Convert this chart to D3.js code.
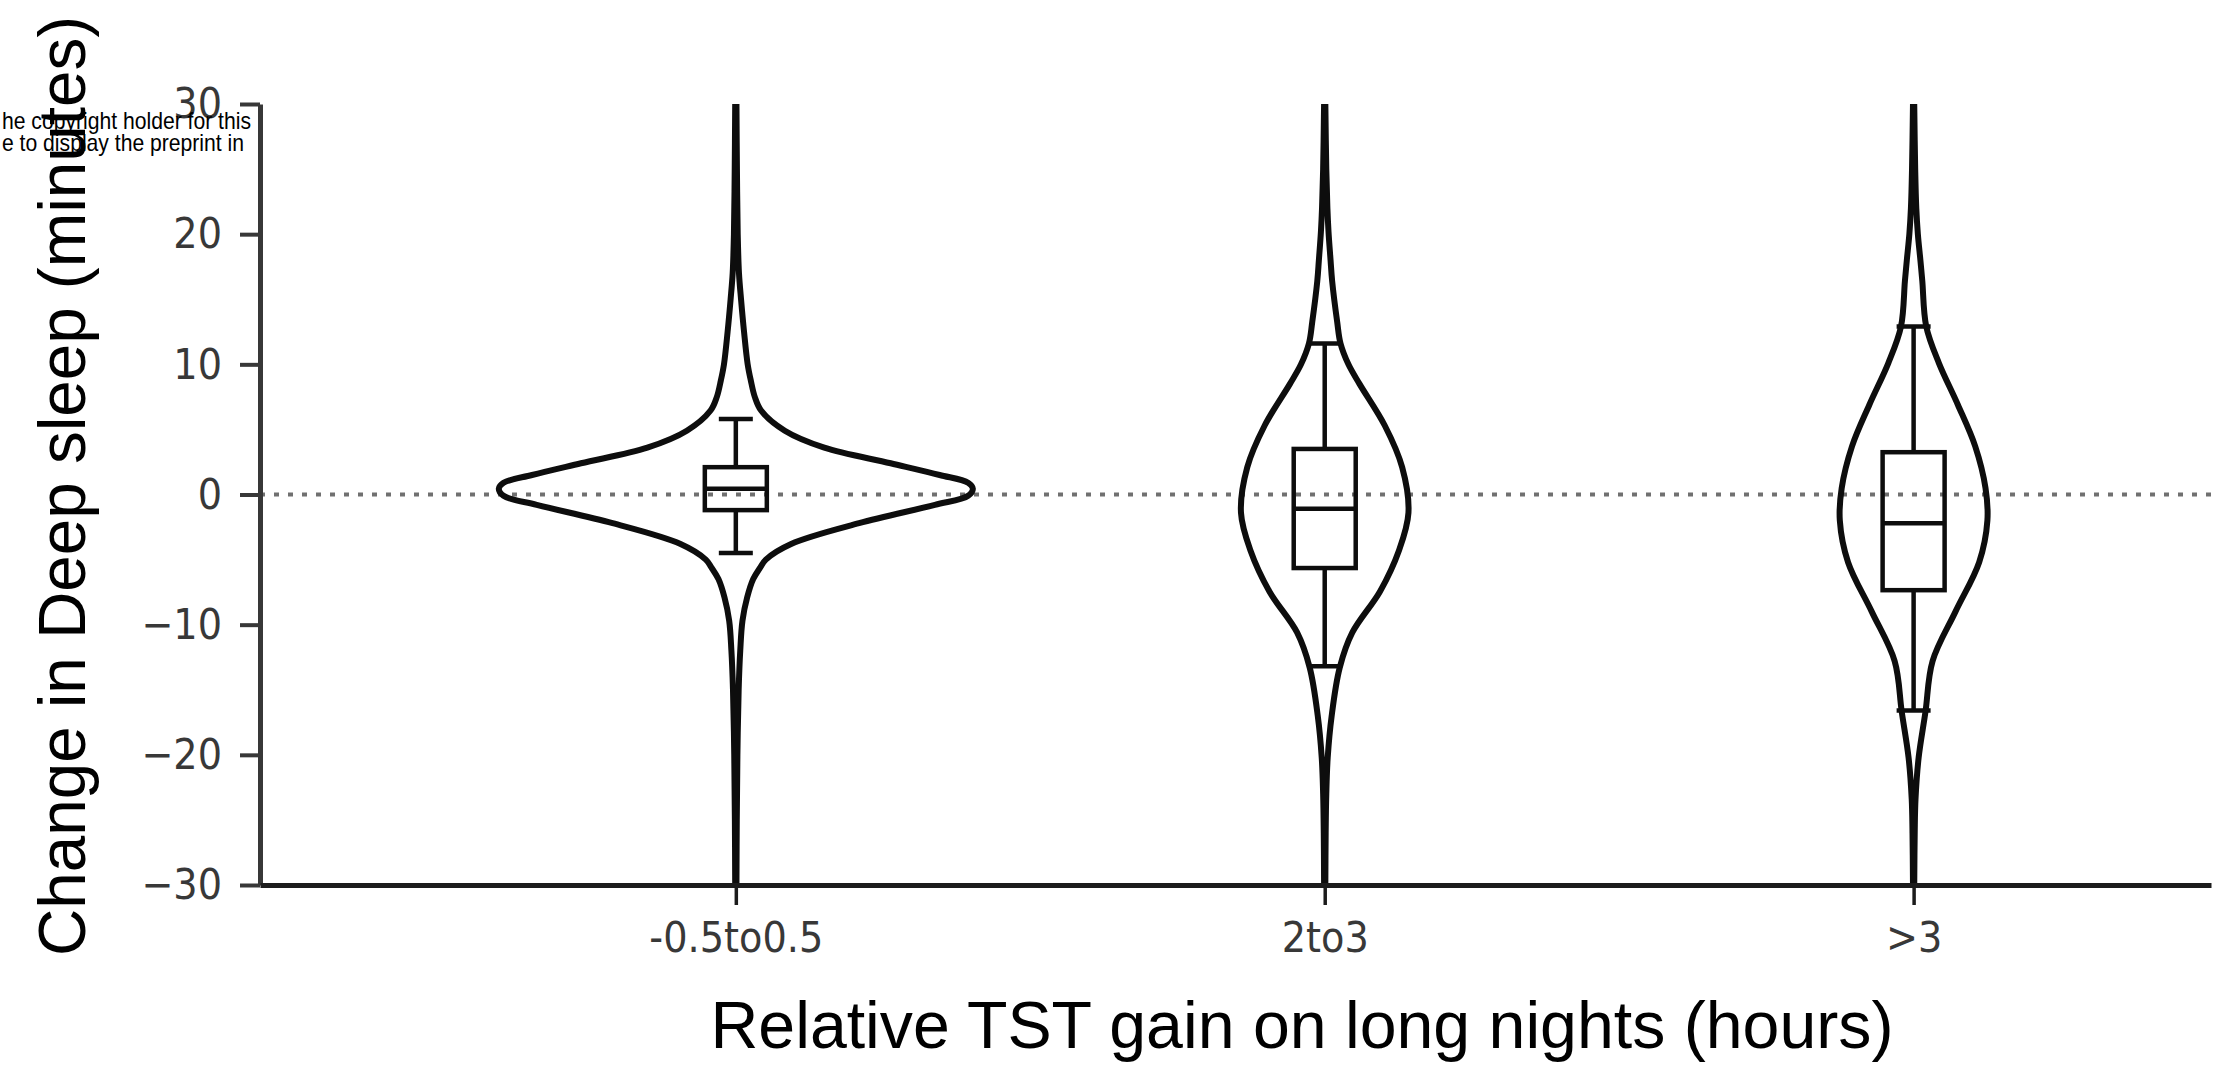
<!DOCTYPE html>
<html>
<head>
<meta charset="utf-8">
<script src="https://cdn.jsdelivr.net/npm/d3@7"></script>
<style>
  html, body { margin: 0; padding: 0; background: #fff; }
  svg { display: block; }
</style>
</head>
<body>
<svg id="chart" width="2227" height="1067"></svg>
<script>
// Groups of relative total-sleep-time gain on long nights
const categories = ["-0.5to0.5", "2to3", ">3"];

// y axis ticks (change in deep sleep, minutes)
const yTickValues = [-30, -20, -10, 0, 10, 20, 30];
const yTickLabels = ["\u221230", "\u221220", "\u221210", "0", "10", "20", "30"];

// Kernel density profiles per group: minutes and density (% of nights per minute)
const kdeMinutes1 = [30, 25, 20, 17, 15, 12.5, 10, 8.75, 7.5, 6.45, 4.9, 3.6, 2.4, 1.5, 0.9, 0.45, -0.1, -0.8, -2.2, -3.8, -5.0, -5.6, -6.5, -7.9, -9.7, -12, -15, -20, -25, -30];
const kdeDensity1 = [0.04, 0.07, 0.12, 0.2, 0.33, 0.52, 0.75, 0.95, 1.2, 1.6, 3.1, 5.6, 9.8, 12.9, 14.7, 15.0, 14.7, 12.6, 7.8, 3.5, 1.9, 1.55, 1.1, 0.72, 0.42, 0.28, 0.18, 0.1, 0.06, 0.04];

const kdeMinutes2 = [30, 25, 22, 20.2, 18, 16.4, 13.25, 11.6, 10, 8.5, 5.3, 2.1, -1.4, -4.3, -7.45, -10.6, -13.3, -17, -20.2, -23, -26, -30];
const kdeDensity2 = [0.04, 0.1, 0.17, 0.24, 0.37, 0.47, 0.79, 1.0, 1.5, 2.2, 3.8, 4.9, 5.3, 4.7, 3.5, 1.75, 0.95, 0.44, 0.19, 0.1, 0.06, 0.04];

const kdeMinutes3 = [30, 25, 22, 20, 18, 16.4, 12.9, 10.1, 6.9, 3.7, 0.5, -2.0, -5.2, -9.0, -12.8, -16.7, -20.2, -23.4, -26, -30];
const kdeDensity3 = [0.04, 0.1, 0.17, 0.27, 0.43, 0.55, 0.8, 1.6, 2.8, 3.9, 4.55, 4.67, 4.15, 2.65, 1.2, 0.75, 0.32, 0.12, 0.07, 0.04];

// Box-plot summaries per group (minutes)
const whiskerLow  = [-4.5, -13.2, -16.6];
const quartile1   = [-1.2, -5.65, -7.35];
const medians     = [0.45, -1.1, -2.2];
const quartile3   = [2.1, 3.5, 3.25];
const whiskerHigh = [5.8, 11.6, 12.9];

const kdeMinutes = [kdeMinutes1, kdeMinutes2, kdeMinutes3];
const kdeDensity = [kdeDensity1, kdeDensity2, kdeDensity3];

const svg = d3.select("#chart");
const plot = { left: 260, right: 2211, top: 104, bottom: 885 };

const x = d3.scaleLinear().domain([-0.808, 2.505]).range([plot.left, plot.right]);
const y = d3.scaleLinear().domain([-30, 30]).range([plot.bottom, plot.top]);
const halfWidth = d3.scaleLinear().domain([0, 15]).range([0, 237]);

svg.append("defs").append("clipPath").attr("id", "plot-clip")
  .append("rect")
  .attr("x", plot.left).attr("y", plot.top)
  .attr("width", plot.right - plot.left).attr("height", plot.bottom - plot.top);

// zero reference line
svg.append("line")
  .attr("x1", plot.left).attr("x2", plot.right)
  .attr("y1", y(0)).attr("y2", y(0))
  .attr("stroke", "#707070").attr("stroke-width", 4)
  .attr("stroke-dasharray", "5,9");

// violins
const violins = svg.append("g").attr("clip-path", "url(#plot-clip)");
categories.forEach((cat, i) => {
  const cx = x(i);
  const pts = kdeMinutes[i].map((m, j) => [m, kdeDensity[i][j]]);
  const area = d3.area()
    .y(d => y(d[0]))
    .x0(d => cx - halfWidth(d[1]))
    .x1(d => cx + halfWidth(d[1]))
    .curve(d3.curveCatmullRom.alpha(0.5));
  violins.append("path")
    .attr("d", area(pts))
    .attr("fill", "none")
    .attr("stroke", "#0d0d0d")
    .attr("stroke-width", 6)
    .attr("stroke-linejoin", "round");
});

// box plots
const boxW = 62, capW = 34;
const boxes = svg.append("g").attr("stroke", "#0d0d0d").attr("stroke-width", 4.5).attr("fill", "none");
categories.forEach((cat, i) => {
  const cx = x(i);
  boxes.append("line").attr("x1", cx).attr("x2", cx).attr("y1", y(whiskerHigh[i])).attr("y2", y(quartile3[i]));
  boxes.append("line").attr("x1", cx).attr("x2", cx).attr("y1", y(quartile1[i])).attr("y2", y(whiskerLow[i]));
  boxes.append("line").attr("x1", cx - capW / 2).attr("x2", cx + capW / 2).attr("y1", y(whiskerHigh[i])).attr("y2", y(whiskerHigh[i]));
  boxes.append("line").attr("x1", cx - capW / 2).attr("x2", cx + capW / 2).attr("y1", y(whiskerLow[i])).attr("y2", y(whiskerLow[i]));
  boxes.append("rect")
    .attr("x", cx - boxW / 2).attr("width", boxW)
    .attr("y", y(quartile3[i])).attr("height", y(quartile1[i]) - y(quartile3[i]));
  boxes.append("line").attr("x1", cx - boxW / 2).attr("x2", cx + boxW / 2).attr("y1", y(medians[i])).attr("y2", y(medians[i]));
});

// axes
const tickFont = "'DejaVu Sans', sans-serif";
const yAxis = svg.append("g").attr("transform", `translate(${plot.left},0)`)
  .call(d3.axisLeft(y).tickValues(yTickValues)
    .tickFormat((d, i) => yTickLabels[i])
    .tickSize(20).tickSizeOuter(0).tickPadding(18));
yAxis.select(".domain").attr("stroke", "#383838").attr("stroke-width", 5);
yAxis.selectAll(".tick line").attr("stroke", "#383838").attr("stroke-width", 4);

const xAxis = svg.append("g").attr("transform", `translate(0,${plot.bottom})`)
  .call(d3.axisBottom(x).tickValues([0, 1, 2])
    .tickFormat(i => categories[i])
    .tickSize(20).tickSizeOuter(0).tickPadding(16));
xAxis.select(".domain").attr("stroke", "#1c1c1c").attr("stroke-width", 5);
xAxis.selectAll(".tick line").attr("stroke", "#1c1c1c").attr("stroke-width", 3.5);

[yAxis, xAxis].forEach(ax => {
  ax.attr("font-family", null).attr("font-size", null);
  ax.selectAll(".tick text")
    .attr("font-family", tickFont)
    .attr("font-size", 43)
    .attr("fill", "#383838")
    .each(function () {
      const len = this.getComputedTextLength();
      d3.select(this).attr("textLength", len * 0.89).attr("lengthAdjust", "spacingAndGlyphs");
    });
});

// axis titles
const titleFont = "'Liberation Sans', Arial, Helvetica, sans-serif";
svg.append("text")
  .attr("x", 1302).attr("y", 1048)
  .attr("text-anchor", "middle")
  .attr("font-family", titleFont).attr("font-size", 66).attr("fill", "#000")
  .attr("textLength", 1183).attr("lengthAdjust", "spacingAndGlyphs")
  .text("Relative TST gain on long nights (hours)");

svg.append("text")
  .attr("transform", "translate(85,486) rotate(-90)")
  .attr("text-anchor", "middle")
  .attr("font-family", titleFont).attr("font-size", 66).attr("fill", "#000")
  .attr("textLength", 940).attr("lengthAdjust", "spacingAndGlyphs")
  .text("Change in Deep sleep (minutes)");

// preprint notice fragment
svg.append("text")
  .attr("x", 251).attr("y", 129).attr("text-anchor", "end")
  .attr("font-family", titleFont).attr("font-size", 24).attr("fill", "#000")
  .attr("textLength", 249).attr("lengthAdjust", "spacingAndGlyphs")
  .text("he copyright holder for this");
svg.append("text")
  .attr("x", 244).attr("y", 151).attr("text-anchor", "end")
  .attr("font-family", titleFont).attr("font-size", 24).attr("fill", "#000")
  .attr("textLength", 242).attr("lengthAdjust", "spacingAndGlyphs")
  .text("e to display the preprint in");
</script>
</body>
</html>
